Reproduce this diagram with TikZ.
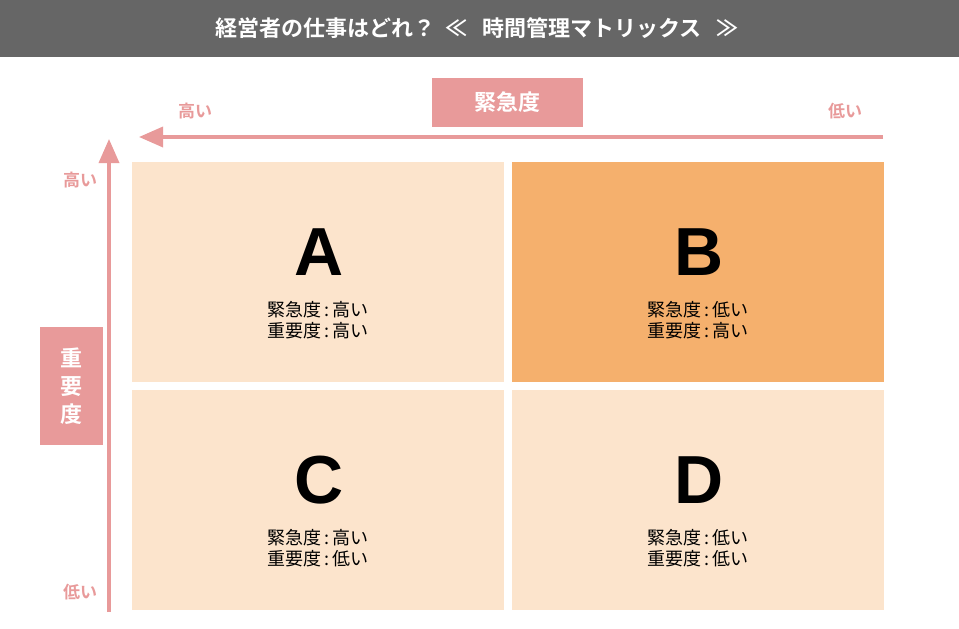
\documentclass[tikz,border=0pt]{standalone}
\usepackage{fontspec}
\usetikzlibrary{arrows.meta}
\newfontfamily\jpfont{Noto Sans CJK JP}[BoldFont={Noto Sans CJK JP Bold}]
\newfontfamily\letterfont{Liberation Sans}
\definecolor{titlegray}{HTML}{666666}
\definecolor{axispink}{HTML}{E89A9A}
\definecolor{lightpeach}{HTML}{FCE4CC}
\definecolor{strongpeach}{HTML}{F5B06D}
\tikzset{
  quad/.style={anchor=north west, shape=rectangle, inner sep=0pt, minimum width=372pt, minimum height=220pt},
  axisbox/.style={shape=rectangle, fill=axispink, inner sep=0pt, text=white, font=\jpfont\bfseries\fontsize{22}{24}\selectfont},
  endlabel/.style={text=axispink, font=\jpfont\bfseries\fontsize{17}{19}\selectfont},
  axisarrow/.style={draw=axispink, line width=3.5pt, -{Triangle[length=24pt,width=20pt]}},
  letter/.style={font=\letterfont\bfseries\fontsize{68}{68}\selectfont},
  degree/.style={align=center, font=\jpfont\fontsize{18}{21}\selectfont}
}

\begin{document}
\begin{tikzpicture}[x=1pt,y=-1pt]
\useasboundingbox (0,0) rectangle (959,629);

% title bar
\fill[titlegray] (0,0) rectangle (959,57);
\node[text=white, font=\jpfont\bfseries\fontsize{22}{24}\selectfont] (title) at (477,28)
  {経営者の仕事はどれ？\ \ ≪\ \ \ 時間管理マトリックス\ \ \ ≫};

% urgency axis
\node[axisbox, minimum width=151pt, minimum height=49pt] (urgency) at (507.5,102.5) {緊急度};
\node[endlabel] (urghigh) at (195,111) {高い};
\node[endlabel] (urglow) at (845,111) {低い};
\coordinate (hstart) at (883,137);
\coordinate (hend) at (139,137);
\draw[axisarrow] (hstart) -- (hend);

% importance axis
\node[axisbox, minimum width=63pt, minimum height=118pt, align=center,
  font=\jpfont\bfseries\fontsize{22}{28}\selectfont] (importance) at (71.5,386) {重\\要\\度};
\node[endlabel] (imphigh) at (80,180) {高い};
\node[endlabel] (implow) at (80,592) {低い};
\coordinate (vstart) at (109,612);
\coordinate (vend) at (109,139);
\draw[axisarrow] (vstart) -- (vend);

% quadrants
\node[quad, fill=lightpeach] (qa) at (132,162) {};
\node[quad, fill=strongpeach] (qb) at (512,162) {};
\node[quad, fill=lightpeach] (qc) at (132,390) {};
\node[quad, fill=lightpeach] (qd) at (512,390) {};

\node[letter] (la) at (319,252) {A};
\node[degree] (ta) at (318,320) {緊急度\,:\,高い\\重要度\,:\,高い};
\node[letter] (lb) at (699,252) {B};
\node[degree] (tb) at (698,320) {緊急度\,:\,低い\\重要度\,:\,高い};
\node[letter] (lc) at (319,480) {C};
\node[degree] (tc) at (318,548) {緊急度\,:\,高い\\重要度\,:\,低い};
\node[letter] (ld) at (699,480) {D};
\node[degree] (td) at (698,548) {緊急度\,:\,低い\\重要度\,:\,低い};

\end{tikzpicture}
\end{document}
